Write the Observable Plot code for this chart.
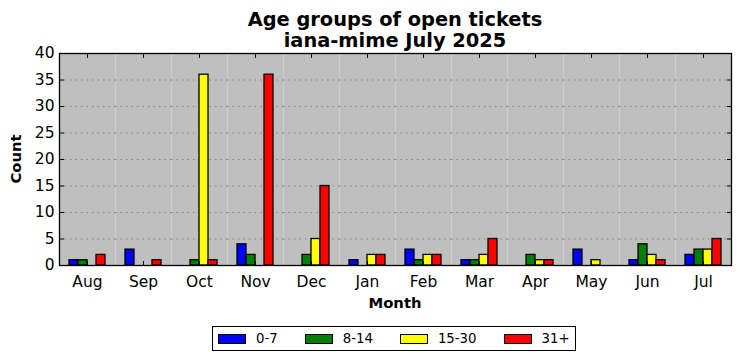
<!DOCTYPE html>
<html><head><meta charset="utf-8">
<script src="https://cdn.jsdelivr.net/npm/d3@7"></script>
<script src="https://cdn.jsdelivr.net/npm/@observablehq/plot@0.6"></script>
<style>
body{margin:0;background:#fff;font-family:"DejaVu Sans",sans-serif;color:#000;}
#wrap{position:relative;width:742px;height:361px;overflow:hidden;}
#title{height:46px;box-sizing:border-box;padding-top:8.6px;padding-left:57px;padding-right:9px;text-align:center;font-weight:bold;font-size:19.4px;line-height:21.5px;white-space:nowrap;}
#xlabel{position:absolute;left:57px;width:676px;top:295.5px;text-align:center;font-weight:bold;font-size:14.8px;line-height:14.8px;}
#ylabel{position:absolute;left:16px;top:159px;transform:translate(-50%,-50%) rotate(-90deg);font-weight:bold;font-size:14.8px;line-height:14.8px;white-space:nowrap;}
#legend{display:inline-flex;align-items:center;margin-left:212px;margin-top:6px;height:25px;box-sizing:border-box;border:1.3px solid #000;padding:0 5px;font-size:13.3px;}
#legend .item{display:flex;align-items:center;margin-right:27px;}
#legend .item:last-child{margin-right:0;}
#legend .sw{width:28px;height:10px;box-sizing:border-box;border:1px solid #000;margin-right:10px;}
#legend-row{display:block;height:35px;}
</style>
</head><body>
<div id="wrap">
<div id="title">Age groups of open tickets<br>iana-mime July 2025</div>
<div id="chart"></div>
<div id="legend-row"><div id="legend"></div></div>
<div id="xlabel">Month</div>
<div id="ylabel">Count</div>
</div>
<script>
const months = ["Aug","Sep","Oct","Nov","Dec","Jan","Feb","Mar","Apr","May","Jun","Jul"];
const groups = ["0-7","8-14","15-30","31+"];
const colors = ["#0000ff","#008000","#ffff00","#ff0000"];
const age0_7   = [1,3,0,4,0,1,3,1,0,3,1,2];
const age8_14  = [1,0,1,2,2,0,1,1,2,0,4,3];
const age15_30 = [0,0,36,0,5,2,2,2,1,1,2,3];
const age31    = [2,1,1,36,15,2,2,5,1,0,1,5];
const yTicks = [0,5,10,15,20,25,30,35,40];

const series = [age0_7, age8_14, age15_30, age31];
const rows = months.flatMap((m, i) => series.map((s, j) => ({month: m, group: groups[j], count: s[i]})));

const chart = Plot.plot({
  width: 742, height: 274,
  marginTop: 7, marginBottom: 55, marginLeft: 57, marginRight: 9,
  style: {background: "transparent", color: "black", fontFamily: "DejaVu Sans", fontSize: "15.5px", overflow: "visible"},
  fx: {domain: months, padding: 0, label: null},
  x: {domain: groups, paddingInner: 0, paddingOuter: 0.89, axis: null},
  y: {domain: [0, 40], label: null},
  color: {domain: groups, range: colors},
  marks: [
    Plot.frame({fill: "#bfbfbf", stroke: "none"}),
    Plot.gridY(yTicks.slice(1, -1), {stroke: "#808080", strokeOpacity: 1, strokeDasharray: "1.5,4"}),
    Plot.barY(rows, {fx: "month", x: "group", y: "count", fill: "group", stroke: "black", strokeWidth: 1.3}),
    Plot.axisY(yTicks, {anchor: "left", tickSize: 0, tickPadding: 5, fontSize: 15.5, label: null}),
    Plot.axisY(yTicks, {anchor: "left", tickSize: -5, tickFormat: () => "", label: null}),
    Plot.axisY(yTicks, {anchor: "right", tickSize: -5, tickFormat: () => "", label: null}),
    Plot.axisFx({anchor: "bottom", tickSize: 0, tickPadding: 10.7, fontSize: 15.5, label: null}),
    Plot.axisFx({anchor: "bottom", tickSize: -4, tickFormat: () => "", label: null}),
    Plot.axisFx({anchor: "top", tickSize: -4, tickFormat: () => "", label: null}),
    Plot.frame({facet: "super", stroke: "black", strokeWidth: 1.3})
  ]
});
document.getElementById("chart").appendChild(chart);

const legend = document.getElementById("legend");
groups.forEach((g, i) => {
  const item = document.createElement("div");
  item.className = "item";
  const sw = document.createElement("div");
  sw.className = "sw";
  sw.style.background = colors[i];
  const t = document.createElement("span");
  t.textContent = g;
  item.appendChild(sw);
  item.appendChild(t);
  legend.appendChild(item);
});
</script>
</body></html>
